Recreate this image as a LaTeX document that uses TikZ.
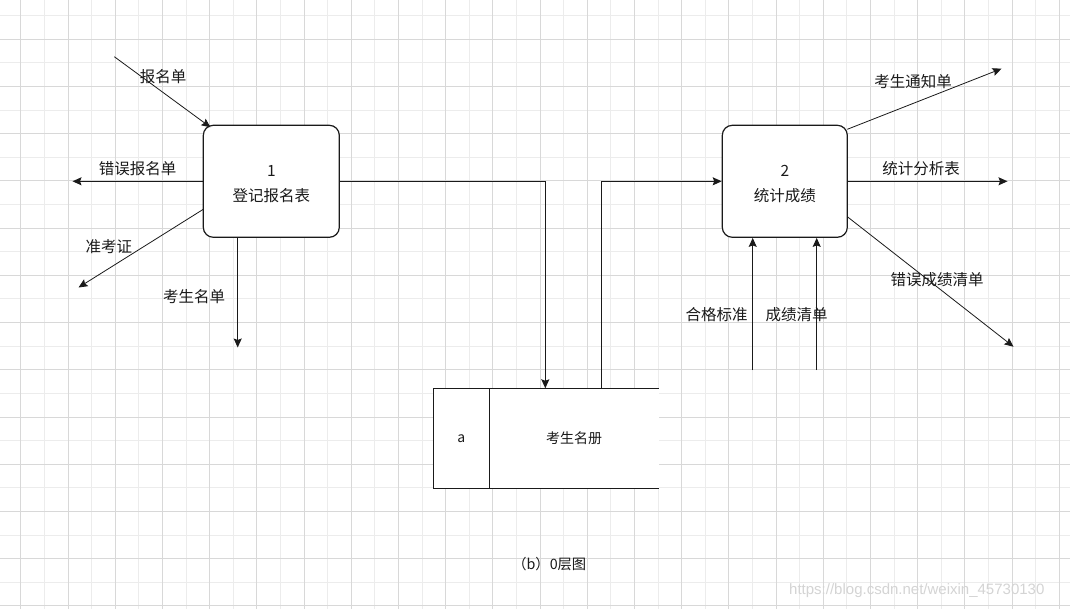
\documentclass[tikz,border=0pt]{standalone}
\usepackage{fontspec}
\setmainfont{Noto Sans CJK SC}
\newfontfamily\wmfont{Liberation Sans}
\usetikzlibrary{arrows.meta}
\definecolor{gridminor}{RGB}{236,236,236}
\definecolor{gridmajor}{RGB}{216,216,216}
\definecolor{ink}{RGB}{26,26,26}
\definecolor{wmgray}{RGB}{212,212,212}
\tikzset{
  proc/.style={draw=ink, line width=1.2pt, rounded corners=10pt, minimum width=#1, minimum height=112pt, inner sep=0pt, fill=white},
  proctext/.style={inner sep=0pt, align=center, font=\fontsize{15.5}{25}\selectfont, text=ink},
  flow/.style={draw=ink, line width=1pt, -{Stealth[length=9pt,width=8pt,inset=1.5pt]}},
  dflow/.style={draw=ink, line width=0.8pt, -{Stealth[length=9pt,width=8pt,inset=1.5pt]}},
  lab/.style={font=\fontsize{15.5}{18}\selectfont, text=ink, inner sep=0pt},
  storebox/.style={draw=ink, line width=1.2pt, outer sep=0pt, minimum width=56pt, minimum height=100pt, inner sep=0pt, font=\fontsize{14}{16}\selectfont, text=ink},
  storeline/.style={draw=ink, line width=1.2pt},
}
\begin{document}
\begin{tikzpicture}[x=1pt,y=-1pt]
\useasboundingbox (0,0) rectangle (1070,609);
\fill[white] (0,0) rectangle (1070,609);
% grid
\foreach \k in {-1,...,44} \draw[gridminor, line width=0.8pt] ({20.7+23.6*\k},0) -- ({20.7+23.6*\k},609);
\foreach \k in {0,...,25} \draw[gridminor, line width=0.8pt] (0,{15.7+23.6*\k}) -- (1070,{15.7+23.6*\k});
\foreach \k in {0,2,...,44} \draw[gridmajor, line width=0.8pt] ({20.7+23.6*\k},0) -- ({20.7+23.6*\k},609);
\foreach \k in {1,3,...,25} \draw[gridmajor, line width=0.8pt] (0,{15.7+23.6*\k}) -- (1070,{15.7+23.6*\k});

% processes
\node[proc=136pt] (p1) at (271.3,181.3) {};
\node[proctext] (p1t) at ([yshift=-2.5pt]p1.center) {1\\登记报名表};
\node[proc=125pt] (p2) at (784.8,181.3) {};
\node[proctext] (p2t) at ([yshift=-2.5pt]p2.center) {2\\统计成绩};

% data store
\fill[white] (433.3,388.3) rectangle (658.7,488.3);
\node[storebox, fill=white] (sa) at (461.3,438.3) {a};
\coordinate (stopend) at (658.7,388.3);
\coordinate (sbotend) at (658.7,488.3);
\draw[storeline] (sa.north east) -- (stopend);
\draw[storeline] (sa.south east) -- (sbotend);
\node[font=\fontsize{14}{16}\selectfont, text=ink, inner sep=0pt] (sb) at (574,438.3) {考生名册};
\coordinate (sin) at (545.3,388.3);
\coordinate (sout) at (601.7,388.3);

% process 1 flows
\coordinate (bmsrc) at (114.3,56.7);
\coordinate (bmtip) at (210.5,127.3);
\draw[dflow] (bmsrc) -- (bmtip);
\node[lab] (lbm) at (163,76.7) {报名单};

\coordinate (cwtip) at (72.5,181.3);
\draw[flow] (p1.west) -- (cwtip);
\node[lab] (lcw) at (137.5,169) {错误报名单};

\coordinate (zkstart) at (203.3,209.3);
\coordinate (zktip) at (78.5,287.5);
\draw[dflow] (zkstart) -- (zktip);
\node[lab] (lzk) at (108.8,246.7) {准考证};

\coordinate (mdtip) at (237.7,347.5);
\draw[flow] (p1.south -| mdtip) -- (mdtip);
\node[lab] (lmd) at (194,296.7) {考生名单};

% store connectors
\draw[flow] (p1.east) -| (sin);
\draw[flow] (sout) |- (p2.west);

% process 2 flows
\coordinate (tzstart) at (847.3,129.3);
\coordinate (tztip) at (1001.5,68.7);
\draw[dflow] (tzstart) -- (tztip);
\node[lab] (ltz) at (913,81.7) {考生通知单};

\coordinate (fxtip) at (1007.5,181.3);
\draw[flow] (p2.east) -- (fxtip);
\node[lab] (lfx) at (921,168.3) {统计分析表};

\coordinate (cjstart) at (847.3,216.7);
\coordinate (cjtip) at (1013.5,346.7);
\draw[dflow] (cjstart) -- (cjtip);
\node[lab] (lcj) at (937,280) {错误成绩清单};

\coordinate (hgsrc) at (752.7,370);
\draw[flow] (hgsrc) -- (p2.south -| hgsrc);
\node[lab] (lhg) at (716.7,315) {合格标准};

\coordinate (qdsrc) at (816.7,370);
\draw[flow] (qdsrc) -- (p2.south -| qdsrc);
\node[lab] (lqd) at (796.7,315) {成绩清单};

% caption
\node[font=\fontsize{14.3}{16}\selectfont, text=ink, inner sep=0pt] (cap) at (549.3,563.7) {（b）0层图};

% watermark
\node[font=\wmfont\fontsize{15}{16}\selectfont, text=wmgray, inner sep=0pt, anchor=west] (wm) at (789,591) {https://blog.csdn.net/weixin\_45730130};
\end{tikzpicture}
\end{document}
